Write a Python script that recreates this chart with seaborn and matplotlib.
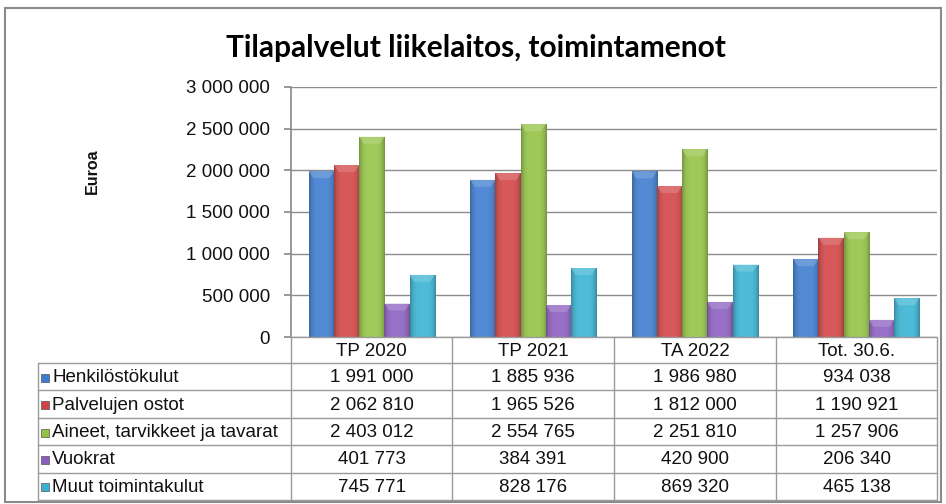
import numpy as np
import pandas as pd
import matplotlib
matplotlib.use("Agg")
import matplotlib.pyplot as plt
import matplotlib.colors as mcolors
from matplotlib.patches import Rectangle, Polygon
from matplotlib.lines import Line2D
import seaborn as sns

# data
categories = ["TP 2020", "TP 2021", "TA 2022", "Tot. 30.6."]
series_names = ["Henkilöstökulut", "Palvelujen ostot", "Aineet, tarvikkeet ja tavarat",
                "Vuokrat", "Muut toimintakulut"]
henkilosto = [1991000, 1885936, 1986980, 934038]
palvelut = [2062810, 1965526, 1812000, 1190921]
aineet = [2403012, 2554765, 2251810, 1257906]
vuokrat = [401773, 384391, 420900, 206340]
muut = [745771, 828176, 869320, 465138]
series_values = [henkilosto, palvelut, aineet, vuokrat, muut]
colors = ["#3b7bd0", "#d24242", "#93c342", "#8b5dc0", "#36b3d3"]
y_ticks = [0, 500000, 1000000, 1500000, 2000000, 2500000, 3000000]

rows = []
for name, vals in zip(series_names, series_values):
    for cat, v in zip(categories, vals):
        rows.append({"Kausi": cat, "Erä": name, "Euroa": v})
df = pd.DataFrame(rows)


def fmt(v):
    return f"{v:,.0f}".replace(",", " ")


sns.set_theme(style="white")
plt.rcParams["font.family"] = ["Liberation Sans", "DejaVu Sans"]

W, H = 946, 504
fig = plt.figure(figsize=(W / 100, H / 100), dpi=100)


def fx(x):
    return x / W


def fy(y):
    return 1 - y / H


# plot area in pixels
left, right, top, zero = 291, 937, 87, 337
ax = fig.add_axes([fx(left), fy(zero), fx(right - left), (zero - top) / H])

sns.barplot(data=df, x="Kausi", y="Euroa", hue="Erä", order=categories,
            hue_order=series_names, palette=colors, width=0.78, gap=0,
            saturation=1, edgecolor="none", linewidth=0, legend=False, ax=ax)

ax.set_xlim(-0.5, len(categories) - 0.5)
ax.set_ylim(0, 3000000)
ax.set_yticks(y_ticks)
ax.set_yticklabels([fmt(t) for t in y_ticks], fontsize=13.5, color="#111111")
ax.set_xticks([])
ax.set_xlabel("")
ax.set_ylabel("")
ax.grid(axis="y", color="#8c8c8c", linewidth=1)
ax.set_axisbelow(True)
for s in ["top", "right", "bottom"]:
    ax.spines[s].set_visible(False)
ax.spines["left"].set_color("#8c8c8c")
ax.tick_params(axis="y", length=5, color="#8c8c8c", pad=10, left=True)

# bevel-like shading on bars: smooth horizontal gradient + lighter top cap
prof = np.linspace(-1, 1, 80)
shade = 1.0 - 0.28 * np.abs(prof) ** 4
px_per_unit = (zero - top) / 3000000
for patch in list(ax.patches):
    c = np.array(mcolors.to_rgb(patch.get_facecolor()))
    x0, w, h = patch.get_x(), patch.get_width(), patch.get_height()
    if h <= 0:
        continue
    lighter = c + (1 - c) * 0.12
    img = np.clip(lighter[None, :] * shade[:, None], 0, 1)
    im = ax.imshow(img[None, :, :], extent=[x0, x0 + w, 0, h], aspect="auto",
                   zorder=patch.get_zorder() + 0.1, interpolation="bilinear")
    im.set_clip_path(patch)
    cap = 7 / px_per_unit
    inset = w * 0.18
    cap_c = np.clip(c + (1 - c) * 0.35, 0, 1)
    ax.add_patch(Polygon([(x0, h), (x0 + w, h), (x0 + w - inset, h - cap), (x0 + inset, h - cap)],
                         closed=True, facecolor=cap_c, edgecolor="none", alpha=0.6,
                         zorder=patch.get_zorder() + 0.2))
ax.set_xlim(-0.5, len(categories) - 0.5)
ax.set_ylim(0, 3000000)

# title and axis label
fig.text(fx(476), fy(48), "Tilapalvelut liikelaitos, toimintamenot", ha="center", va="center",
         fontsize=21.5, fontweight="bold", family=["Lato", "DejaVu Sans"], color="#000000")
fig.text(fx(92), fy(171), "Euroa", rotation=90, ha="center", va="center",
         fontsize=11.5, fontweight="bold", color="#111111")

# data table
line_c = "#9a9a9a"
col_x = [left, 452, 614, 776, right]
tab_left = 38
head_bottom = 363
row_h = (500 - head_bottom) / len(series_names)
row_y = [head_bottom + i * row_h for i in range(len(series_names) + 1)]


def hline(x0, x1, y):
    fig.add_artist(Line2D([fx(x0), fx(x1)], [fy(y), fy(y)], color=line_c, lw=1))


def vline(x, y0, y1):
    fig.add_artist(Line2D([fx(x), fx(x)], [fy(y0), fy(y1)], color=line_c, lw=1))


hline(left, right, zero)
for y in row_y:
    hline(tab_left, right, y)
for x in col_x:
    vline(x, zero, row_y[-1])
vline(tab_left, head_bottom, row_y[-1])

for j, cat in enumerate(categories):
    cx = (col_x[j] + col_x[j + 1]) / 2
    fig.text(fx(cx), fy((zero + head_bottom) / 2 + 1), cat, ha="center", va="center",
             fontsize=13.5, color="#111111")

for i, (name, vals) in enumerate(zip(series_names, series_values)):
    cy = (row_y[i] + row_y[i + 1]) / 2 + 1
    fig.add_artist(Rectangle((fx(41), fy(cy + 4)), 8 / W, 8 / H, facecolor=colors[i],
                             edgecolor="#555555", lw=0.5, transform=fig.transFigure))
    fig.text(fx(52), fy(cy), name, ha="left", va="center", fontsize=13.5, color="#111111")
    for j, v in enumerate(vals):
        cx = (col_x[j] + col_x[j + 1]) / 2
        fig.text(fx(cx), fy(cy), fmt(v), ha="center", va="center",
                 fontsize=13.5, color="#111111")

# outer chart border
fig.add_artist(Rectangle((fx(5), fy(502)), 936 / W, 494 / H, facecolor="none",
                         edgecolor="#8a8a8a", lw=1.5, transform=fig.transFigure))

fig.savefig("out.png", dpi=100)
